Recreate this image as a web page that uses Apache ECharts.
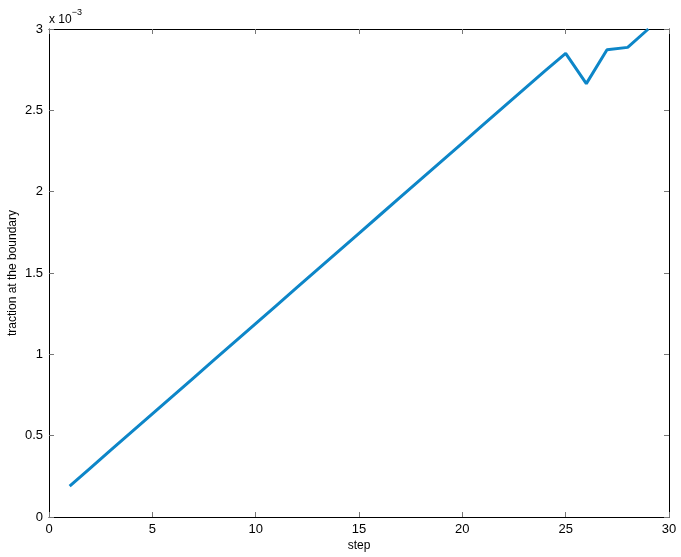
<!DOCTYPE html>
<html>
<head>
<meta charset="utf-8">
<script src="https://cdn.jsdelivr.net/npm/echarts@6/dist/echarts.min.js"></script>
<style>
  html, body { margin: 0; padding: 0; background: #fff; }
  #main { width: 681px; height: 557px; }
</style>
</head>
<body>
<div id="main"></div>
<script>
// step number on the x axis
const steps = [1, 2, 3, 4, 5, 6, 7, 8, 9, 10, 11, 12, 13, 14, 15, 16, 17, 18, 19, 20, 21, 22, 23, 24, 25, 26, 27, 28, 29]
// traction at the boundary, in units of 1e-3
const traction = [0.190, 0.301, 0.412, 0.523, 0.634, 0.745, 0.856, 0.967, 1.078, 1.189, 1.300, 1.411, 1.522, 1.633, 1.744, 1.855, 1.966, 2.077, 2.188, 2.299, 2.410, 2.521, 2.632, 2.743, 2.850, 2.664, 2.872, 2.887, 3.000]
const xTicks = [0, 5, 10, 15, 20, 25, 30]
const yTicks = [0, 0.5, 1, 1.5, 2, 2.5, 3]

const font = 'Liberation Sans, Arial, Helvetica, sans-serif'

const chart = echarts.init(document.getElementById('main'), null, { renderer: 'canvas' })

const tickStyle = { show: true, inside: true, length: 5, lineStyle: { color: '#777', width: 1 } }
const lineStyle = { color: '#000', width: 1 }

chart.setOption({
  animation: false,
  backgroundColor: '#fff',
  grid: { left: 49, top: 29, right: 12, bottom: 40, containLabel: false, outerBoundsMode: 'none' },
  xAxis: [
    {
      type: 'value', min: xTicks[0], max: xTicks[xTicks.length - 1], interval: 5,
      name: 'step', nameLocation: 'middle', nameGap: 23, nameMoveOverlap: false,
      nameTextStyle: { color: '#000', fontFamily: font, fontSize: 12 },
      axisLine: { show: true, onZero: false, lineStyle: lineStyle },
      axisTick: tickStyle,
      axisLabel: { color: '#000', fontFamily: font, fontSize: 13, margin: 6 },
      splitLine: { show: false }
    },
    {
      type: 'value', position: 'top', min: xTicks[0], max: xTicks[xTicks.length - 1], interval: 5,
      axisLine: { show: true, onZero: false, lineStyle: lineStyle },
      axisTick: tickStyle,
      axisLabel: { show: false },
      splitLine: { show: false }
    }
  ],
  yAxis: [
    {
      type: 'value', min: yTicks[0], max: yTicks[yTicks.length - 1], interval: 0.5,
      name: 'traction at the boundary', nameLocation: 'middle', nameGap: 30, nameMoveOverlap: false,
      nameTextStyle: { color: '#000', fontFamily: font, fontSize: 12 },
      axisLine: { show: true, onZero: false, lineStyle: lineStyle },
      axisTick: tickStyle,
      axisLabel: { color: '#000', fontFamily: font, fontSize: 13, margin: 6 },
      splitLine: { show: false }
    },
    {
      type: 'value', position: 'right', min: yTicks[0], max: yTicks[yTicks.length - 1], interval: 0.5,
      axisLine: { show: true, onZero: false, lineStyle: lineStyle },
      axisTick: tickStyle,
      axisLabel: { show: false },
      splitLine: { show: false }
    }
  ],
  graphic: [
    {
      type: 'text', left: 49, top: 8,
      style: {
        text: '{a|x 10}{b|−3}',
        rich: {
          a: { fontFamily: font, fontSize: 12, fill: '#000', padding: [6, 0, 0, 0] },
          b: { fontFamily: font, fontSize: 9, fill: '#000', verticalAlign: 'top' }
        }
      }
    }
  ],
  series: [
    {
      type: 'line',
      data: steps.map((s, i) => [s, traction[i]]),
      showSymbol: false,
      clip: true,
      lineStyle: { color: '#0d86c8', width: 3 },
      itemStyle: { color: '#0d86c8' }
    }
  ]
})
</script>
</body>
</html>
